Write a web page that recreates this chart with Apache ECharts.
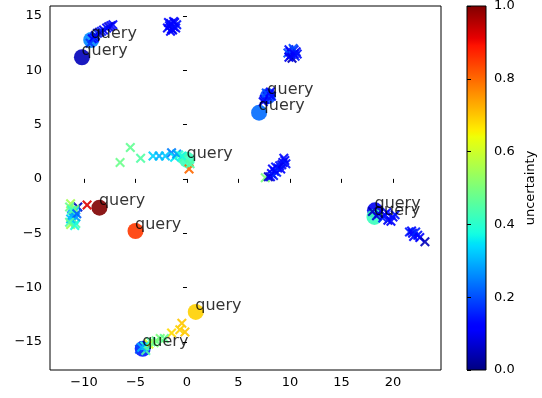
<!DOCTYPE html>
<html><head><meta charset="utf-8">
<script src="https://cdn.jsdelivr.net/npm/echarts@6/dist/echarts.min.js"></script>
<style>html,body{margin:0;padding:0;background:#fff}#c{width:542px;height:398px}</style>
</head><body><div id="c"></div>
<script>
// ---- data ----
const xTicks = [-10, -5, 0, 5, 10, 15, 20];
const yTicks = [-15, -10, -5, 0, 5, 10, 15];
const cbTicks = [0, 0.2, 0.4, 0.6, 0.8, 1.0];
const queryLabel = 'query';
// [x, y, uncertainty]
const queryPoints = [
  [-10.2, 11.2, 0.05],
  [-9.3, 12.8, 0.26],
  [7.0, 6.1, 0.23],
  [7.85, 7.6, 0.2],
  [0.0, 1.75, 0.42],
  [-8.5, -2.65, 1.0],
  [-5.0, -4.8, 0.85],
  [18.25, -2.9, 0.1],
  [18.2, -3.5, 0.42],
  [0.85, -12.25, 0.69],
  [-4.3, -15.65, 0.15]
];
const crossPoints = [
  // upper-left group
  [-7.2, 14.2, 0.13], [-7.4, 14.1, 0.12], [-7.6, 14.0, 0.08], [-7.8, 13.9, 0.13],
  [-8.1, 13.7, 0.1], [-8.3, 13.6, 0.15], [-8.5, 13.5, 0.05], [-8.7, 13.4, 0.15],
  [-8.9, 13.2, 0.06], [-9.0, 13.0, 0.13], [-9.2, 12.9, 0.12], [-9.4, 12.5, 0.18],
  // top middle
  [-1.6, 14.3, 0.12], [-1.3, 14.0, 0.13], [-1.5, 13.8, 0.11], [-1.2, 14.4, 0.12],
  [-1.7, 14.1, 0.14], [-1.4, 13.7, 0.1], [-1.1, 13.9, 0.12], [-1.8, 14.4, 0.13],
  [-1.0, 14.2, 0.14], [-1.6, 13.6, 0.12], [-1.3, 14.5, 0.11], [-1.9, 13.9, 0.12],
  // top right
  [9.9, 11.9, 0.14], [10.4, 11.9, 0.16], [10.1, 11.4, 0.12], [10.5, 11.3, 0.15],
  [9.8, 11.6, 0.2], [10.2, 11.1, 0.05], [10.0, 11.7, 0.12], [10.6, 11.7, 0.13],
  [10.3, 12.0, 0.2], [9.9, 11.2, 0.1], [10.4, 11.5, 0.12], [10.7, 11.5, 0.14],
  // near (8, 7.7)
  [7.5, 7.3, 0.12], [7.8, 7.6, 0.15], [8.0, 7.8, 0.13], [7.7, 7.9, 0.2], [8.1, 8.0, 0.12],
  [7.4, 7.1, 0.1], [8.2, 7.6, 0.14],
  // diagonal near (9, 1)
  [7.6, 0.1, 0.5], [7.9, 0.2, 0.05], [8.2, 0.5, 0.12], [8.5, 0.7, 0.13], [8.8, 1.0, 0.12],
  [9.0, 1.2, 0.14], [9.3, 1.5, 0.12], [9.5, 1.7, 0.13], [8.4, 0.3, 0.15], [8.1, 0.2, 0.1],
  [8.7, 0.6, 0.16], [9.1, 0.9, 0.12], [9.2, 1.3, 0.1], [9.6, 1.4, 0.14], [8.6, 1.1, 0.15],
  [9.4, 1.9, 0.13], [8.3, 0.9, 0.12],
  // row near y=2
  [-6.5, 1.5, 0.48], [-5.5, 2.9, 0.47], [-4.5, 1.9, 0.45], [-3.3, 2.1, 0.33],
  [-2.7, 2.1, 0.3], [-2.1, 2.1, 0.32], [-1.5, 2.4, 0.25], [-1.2, 2.0, 0.35],
  [-0.8, 2.2, 0.4], [-0.4, 1.9, 0.43], [0.2, 0.9, 0.8], [-1.0, 2.3, 0.28],
  [-0.5, 2.1, 0.38], [0.3, 1.4, 0.45],
  // left column
  [-9.7, -2.4, 0.92], [-10.6, -2.6, 0.05], [-11.3, -2.3, 0.55], [-10.9, -3.0, 0.35],
  [-11.2, -3.4, 0.25], [-11.0, -3.8, 0.35], [-11.3, -4.2, 0.55], [-10.8, -4.1, 0.45],
  [-11.1, -3.2, 0.3], [-10.9, -2.8, 0.5], [-11.4, -2.6, 0.48], [-10.8, -3.5, 0.28],
  [-11.3, -3.7, 0.32], [-10.9, -4.3, 0.38], [-11.2, -2.9, 0.42], [-10.7, -3.2, 0.22],
  [-11.4, -4.0, 0.45],
  // right group
  [18.0, -3.0, 0.05], [19.2, -3.3, 0.12], [19.5, -3.8, 0.1], [20.0, -3.5, 0.13],
  [19.0, -3.6, 0.15], [18.6, -3.2, 0.1], [19.8, -3.9, 0.12], [20.2, -3.3, 0.14],
  [19.4, -3.1, 0.13], [18.4, -3.4, 0.08],
  [21.6, -4.9, 0.15], [21.9, -5.0, 0.12], [22.4, -5.2, 0.14], [22.0, -5.3, 0.13],
  [21.8, -4.8, 0.13], [22.2, -4.9, 0.16], [22.6, -5.4, 0.12], [23.1, -5.8, 0.05],
  // bottom diagonal
  [-0.5, -13.3, 0.7], [-0.2, -14.1, 0.7], [-0.7, -13.9, 0.69], [-1.5, -14.2, 0.68],
  [-2.6, -14.7, 0.5], [-3.0, -14.9, 0.48], [-3.5, -15.0, 0.45], [-3.7, -15.2, 0.62],
  [-4.1, -15.4, 0.4], [-4.6, -15.7, 0.2], [-4.0, -15.8, 0.45], [-2.2, -14.7, 0.47],
  [-3.2, -15.1, 0.5], [-4.4, -15.5, 0.3]
];

// ---- jet colormap (matplotlib segment data) ----
const jetSeg = {
  r: [[0, 0], [0.35, 0], [0.66, 1], [0.89, 1], [1, 0.5]],
  g: [[0, 0], [0.125, 0], [0.375, 1], [0.64, 1], [0.91, 0], [1, 0]],
  b: [[0, 0.5], [0.11, 1], [0.34, 1], [0.65, 0], [1, 0]]
};
function seg(s, t) {
  for (let i = 1; i < s.length; i++) {
    if (t <= s[i][0]) {
      const a = s[i - 1], b = s[i];
      return a[1] + (b[1] - a[1]) * (t - a[0]) / (b[0] - a[0]);
    }
  }
  return s[s.length - 1][1];
}
function jet(t) {
  const c = [seg(jetSeg.r, t), seg(jetSeg.g, t), seg(jetSeg.b, t)].map(v => Math.round(v * 255));
  return 'rgb(' + c.join(',') + ')';
}
const jetColors = [];
for (let i = 0; i <= 100; i++) jetColors.push(jet(i / 100));
const gradStops = jetColors.map((c, i) => ({ offset: 1 - i / 100, color: c }));

const FONT = 'DejaVu Sans';
const fmtMinus = v => String(v).replace('-', '\u2212');
const crossPath = 'path://M0,1.5L1.5,0L5,3.5L8.5,0L10,1.5L6.5,5L10,8.5L8.5,10L5,6.5L1.5,10L0,8.5L3.5,5Z';

const chart = echarts.init(document.getElementById('c'), null, { renderer: 'canvas' });
chart.setOption({
  animation: false,
  backgroundColor: '#fff',
  textStyle: { fontFamily: FONT },
  grid: [
    { left: 50, top: 6, width: 391, height: 364, show: true, borderColor: '#000', borderWidth: 1,
      backgroundColor: 'transparent', containLabel: false, outerBoundsMode: 'none' },
    { left: 467, top: 6, width: 19, height: 364, show: true, borderColor: '#000', borderWidth: 1,
      backgroundColor: new echarts.graphic.LinearGradient(0, 0, 0, 1, gradStops),
      containLabel: false, outerBoundsMode: 'none' }
  ],
  xAxis: [
    { type: 'value', gridIndex: 0, min: -13.3, max: 24.66,
      splitLine: { show: false }, axisLine: { show: false },
      axisTick: { show: true, length: 4, lineStyle: { color: '#000', width: 1 }, customValues: xTicks },
      axisLabel: { customValues: xTicks, formatter: fmtMinus, color: '#000', fontSize: 13, fontFamily: FONT, margin: 6 } },
    { type: 'value', gridIndex: 1, min: 0, max: 1, show: false }
  ],
  yAxis: [
    { type: 'value', gridIndex: 0, min: -17.6, max: 15.92,
      splitLine: { show: false }, axisLine: { show: false },
      axisTick: { show: true, length: 4, lineStyle: { color: '#000', width: 1 }, customValues: yTicks },
      axisLabel: { customValues: yTicks, formatter: fmtMinus, color: '#000', fontSize: 13, fontFamily: FONT, margin: 8 } },
    { type: 'value', gridIndex: 1, position: 'right', min: 0, max: 1,
      splitLine: { show: false }, axisLine: { show: false },
      axisTick: { show: true, length: 4, lineStyle: { color: '#000', width: 1 }, customValues: cbTicks },
      axisLabel: { customValues: cbTicks, formatter: v => v.toFixed(1), color: '#000', fontSize: 13, fontFamily: FONT, margin: 8 },
      name: 'uncertainty', nameLocation: 'middle', nameGap: 38, nameRotate: 90,
      nameTextStyle: { color: '#000', fontSize: 13, fontFamily: FONT } }
  ],
  visualMap: {
    show: false, type: 'continuous', min: 0, max: 1, dimension: 2, seriesIndex: [0, 1],
    inRange: { color: jetColors }
  },
  series: [
    { type: 'scatter', xAxisIndex: 0, yAxisIndex: 0, data: queryPoints, symbol: 'circle', symbolSize: 16,
      itemStyle: { opacity: 0.9 }, z: 2 },
    { type: 'scatter', xAxisIndex: 0, yAxisIndex: 0, data: crossPoints, symbol: crossPath, symbolSize: 10,
      itemStyle: { opacity: 0.9 }, z: 3 },
    { type: 'scatter', xAxisIndex: 0, yAxisIndex: 0, data: queryPoints, symbol: 'circle', symbolSize: 1,
      silent: true, itemStyle: { color: 'rgba(0,0,0,0)' }, z: 4,
      label: { show: true, formatter: queryLabel, position: [0, 0], align: 'left', verticalAlign: 'bottom',
        offset: [0, 2], color: '#000', fontSize: 16, fontFamily: FONT } }
  ]
});
</script>
</body></html>
